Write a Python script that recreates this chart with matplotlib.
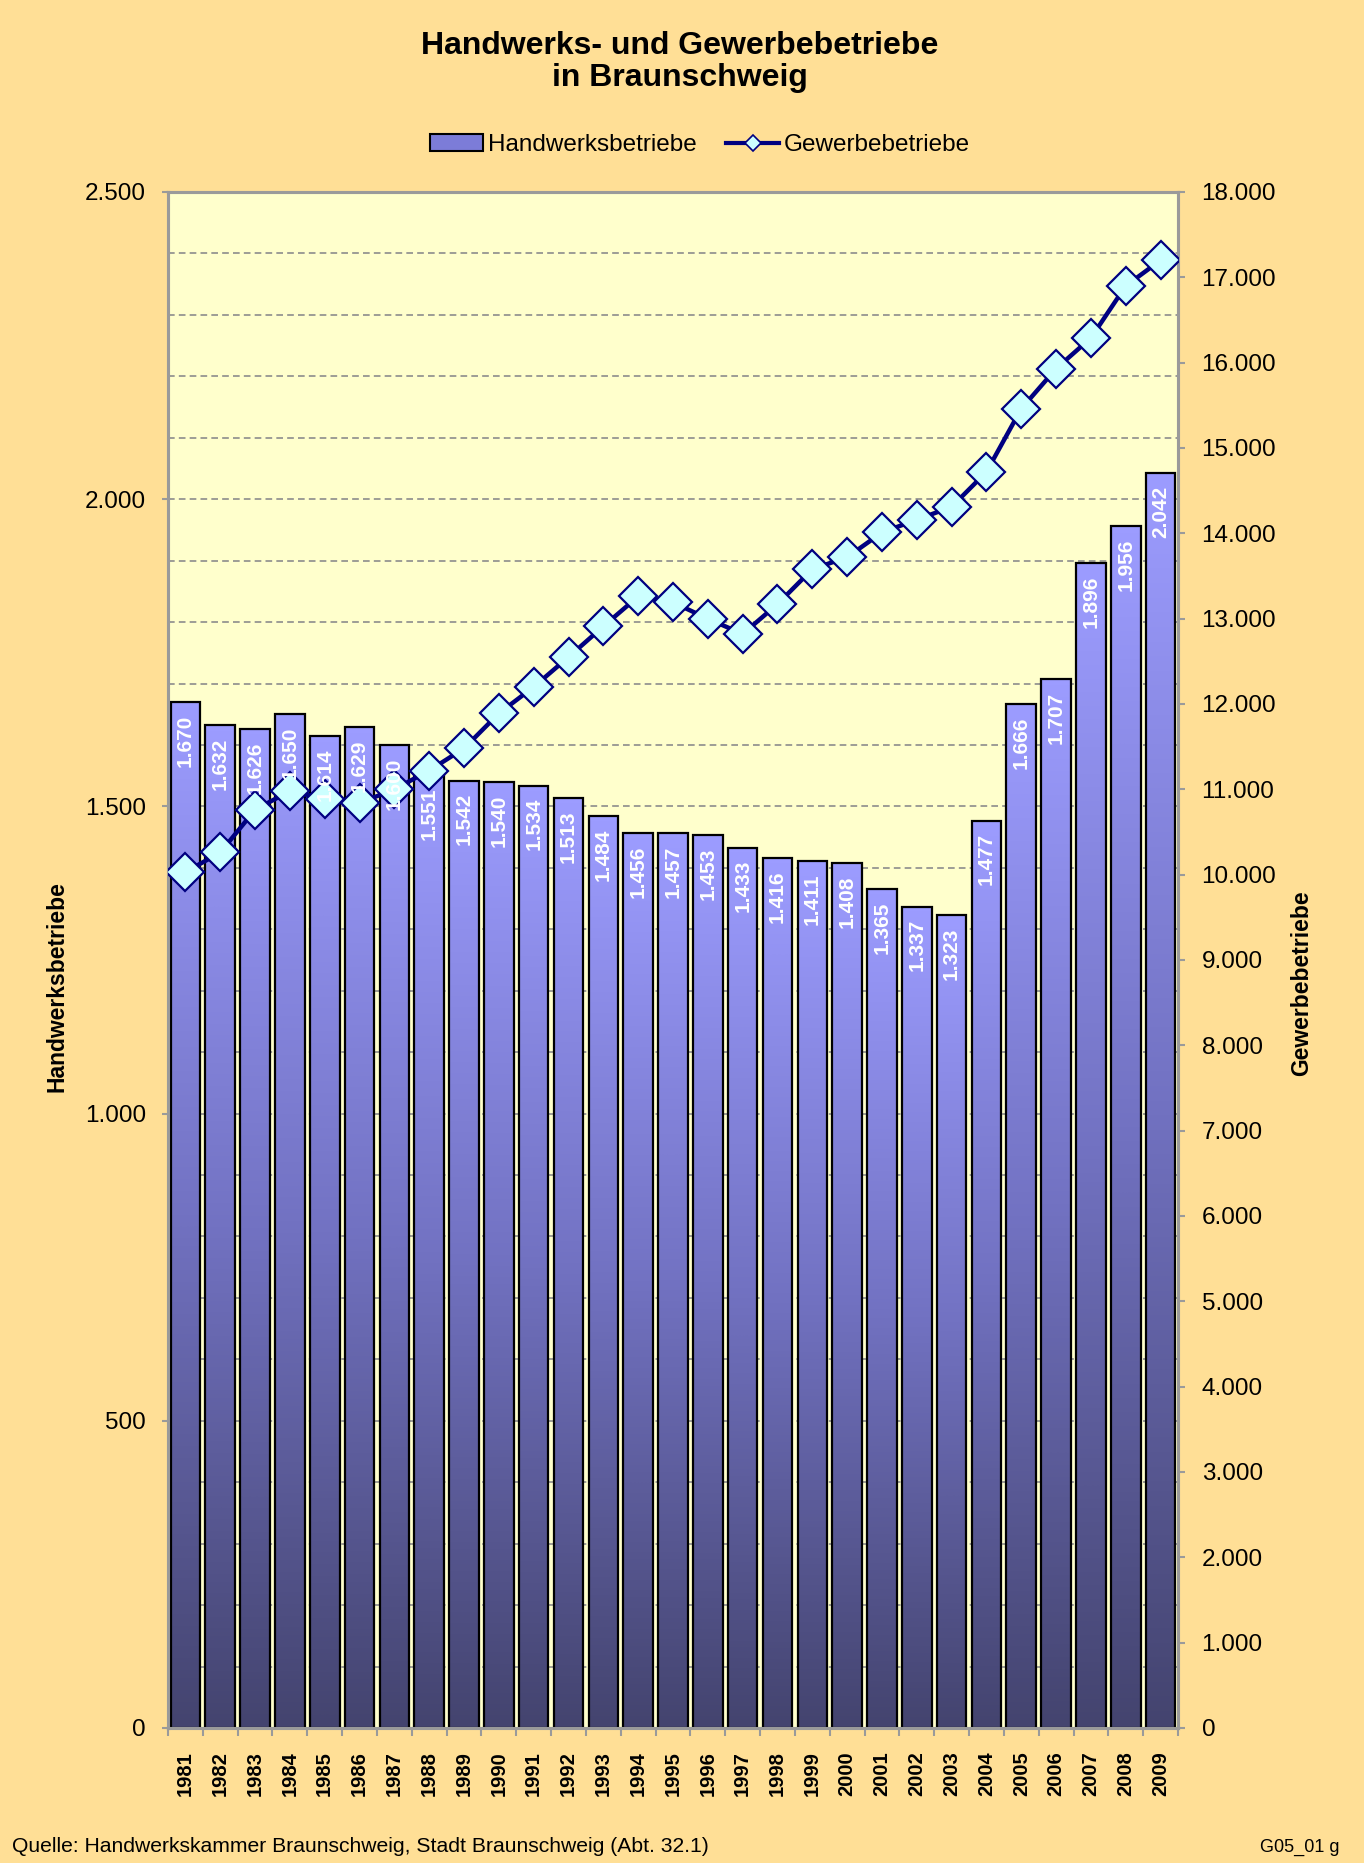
import numpy as np
import matplotlib
matplotlib.use("Agg")
import matplotlib.pyplot as plt
from matplotlib.colors import LinearSegmentedColormap
from matplotlib.lines import Line2D
from matplotlib.patches import Patch
from matplotlib.ticker import FuncFormatter, MultipleLocator

plt.rcParams['font.family'] = ['Liberation Sans', 'DejaVu Sans']

years = [str(y) for y in range(1981, 2010)]
handwerk = [1670, 1632, 1626, 1650, 1614, 1629, 1600, 1551, 1542, 1540, 1534, 1513,
            1484, 1456, 1457, 1453, 1433, 1416, 1411, 1408, 1365, 1337, 1323, 1477,
            1666, 1707, 1896, 1956, 2042]
gewerbe = [10030, 10260, 10760, 10980, 10890, 10840, 11000, 11220, 11480, 11890,
           12200, 12550, 12910, 13260, 13190, 13000, 12820, 13170, 13580, 13720,
           14010, 14160, 14310, 14720, 15460, 15930, 16290, 16900, 17200]

title = "Handwerks- und Gewerbebetriebe\nin Braunschweig"
label_left = "Handwerksbetriebe"
label_right = "Gewerbebetriebe"
source = "Quelle: Handwerkskammer Braunschweig, Stadt Braunschweig (Abt. 32.1)"
code = "G05_01 g"

BG = "#FFDF96"
PLOT_BG = "#FFFFCC"
GRID = "#8C8C8C"
AXC = "#9A9A9A"


def de(v, pos=None):
    return f"{int(round(v)):,}".replace(",", ".")


W, H = 1364, 1863
fig = plt.figure(figsize=(W / 100, H / 100), dpi=100, facecolor=BG)
ax1 = fig.add_axes([168 / W, 1 - 1728 / H, (1178 - 168) / W, (1728 - 192) / H])
ax1.set_facecolor(PLOT_BG)

x = np.arange(len(years))
ax1.set_xlim(-0.5, len(years) - 0.5)
ax1.set_ylim(0, 2500)

# gridlines
ax1.yaxis.set_major_locator(MultipleLocator(500))
ax1.yaxis.set_minor_locator(MultipleLocator(100))
ax1.grid(axis='y', which='both', color=GRID, linestyle=(0, (4, 2.5)), linewidth=1.2)
ax1.set_axisbelow(True)

# gradient bars
cmap = LinearSegmentedColormap.from_list("bar", ["#44446F", "#7272C2", "#9C9CFF"])
grad = np.linspace(0, 1, 256).reshape(-1, 1)
bars = ax1.bar(x, handwerk, width=0.85, facecolor='none', edgecolor='black',
               linewidth=1.6, zorder=3)
for b in bars:
    x0, w, h = b.get_x(), b.get_width(), b.get_height()
    im = ax1.imshow(grad, extent=[x0, x0 + w, 0, h], origin='lower', aspect='auto',
                    cmap=cmap, zorder=2, interpolation='bilinear')
    im.set_clip_path(b)
ax1.set_xlim(-0.5, len(years) - 0.5)
ax1.set_ylim(0, 2500)

# axes styling
for s in ax1.spines.values():
    s.set_color(AXC)
    s.set_linewidth(2.2)
ax1.yaxis.set_major_formatter(FuncFormatter(de))
ax1.tick_params(axis='y', which='major', length=4, width=1.5, color=AXC,
                labelsize=17.5, pad=12)
ax1.tick_params(axis='y', which='minor', length=0)
ax1.set_xticks(x)
ax1.set_xticklabels(years, rotation=90, fontweight='bold', fontsize=14.5)
ax1.set_xticks(np.arange(-0.5, len(years), 1), minor=True)
ax1.tick_params(axis='x', which='major', length=0, pad=17)
ax1.tick_params(axis='x', which='minor', length=6, width=1.5, color=AXC)

ax2 = ax1.twinx()
ax2.set_ylim(0, 18000)
ax2.yaxis.set_major_locator(MultipleLocator(1000))
ax2.yaxis.set_major_formatter(FuncFormatter(de))
ax2.tick_params(axis='y', length=5, width=1.5, color=AXC, labelsize=17.5, pad=12)
for s in ax2.spines.values():
    s.set_color(AXC)
    s.set_linewidth(2.2)
ax2.plot(x, gewerbe, color='#000080', linewidth=3.2, marker='D', markersize=19.5,
         markerfacecolor='#CCFFFF', markeredgecolor='#000080', markeredgewidth=1.6,
         zorder=4)

# value labels (on top of markers)
for i, v in enumerate(handwerk):
    ax2.annotate(de(v), xy=(i, v), xycoords=ax1.transData, xytext=(0, -9),
                 textcoords='offset points', rotation=90, ha='center', va='top',
                 color='white', fontweight='bold', fontsize=15, zorder=6)

# axis labels
fig.text(57 / W, 1 - 987 / H, label_left, rotation=90, ha='center', va='center',
         fontweight='bold', fontsize=16.5)
fig.text(1302 / W, 1 - 983 / H, label_right, rotation=90, ha='center', va='center',
         fontweight='bold', fontsize=16.5)

# title
fig.text(680 / W, 1 - 62 / H, title, ha='center', va='center', fontweight='bold',
         fontsize=23, linespacing=1.05)

# legend
handles = [Patch(facecolor='#7C7CD8', edgecolor='black', linewidth=1.5),
           Line2D([0], [0], color='#000080', linewidth=3, marker='D', markersize=8,
                  markerfacecolor='#CCFFFF', markeredgecolor='#000080',
                  markeredgewidth=1.2)]
fig.legend(handles, [label_left, label_right], loc='center',
           bbox_to_anchor=(700 / W, 1 - 145 / H), ncol=2, frameon=False,
           fontsize=17.5, handlelength=2.2, handleheight=0.7, handletextpad=0.2,
           columnspacing=1.2)

# footer
fig.text(12 / W, 1 - 1847 / H, source, ha='left', va='center', fontsize=15.2)
fig.text(1340 / W, 1 - 1847 / H, code, ha='right', va='center', fontsize=13)

fig.savefig("out.png", dpi=100, facecolor=BG)
